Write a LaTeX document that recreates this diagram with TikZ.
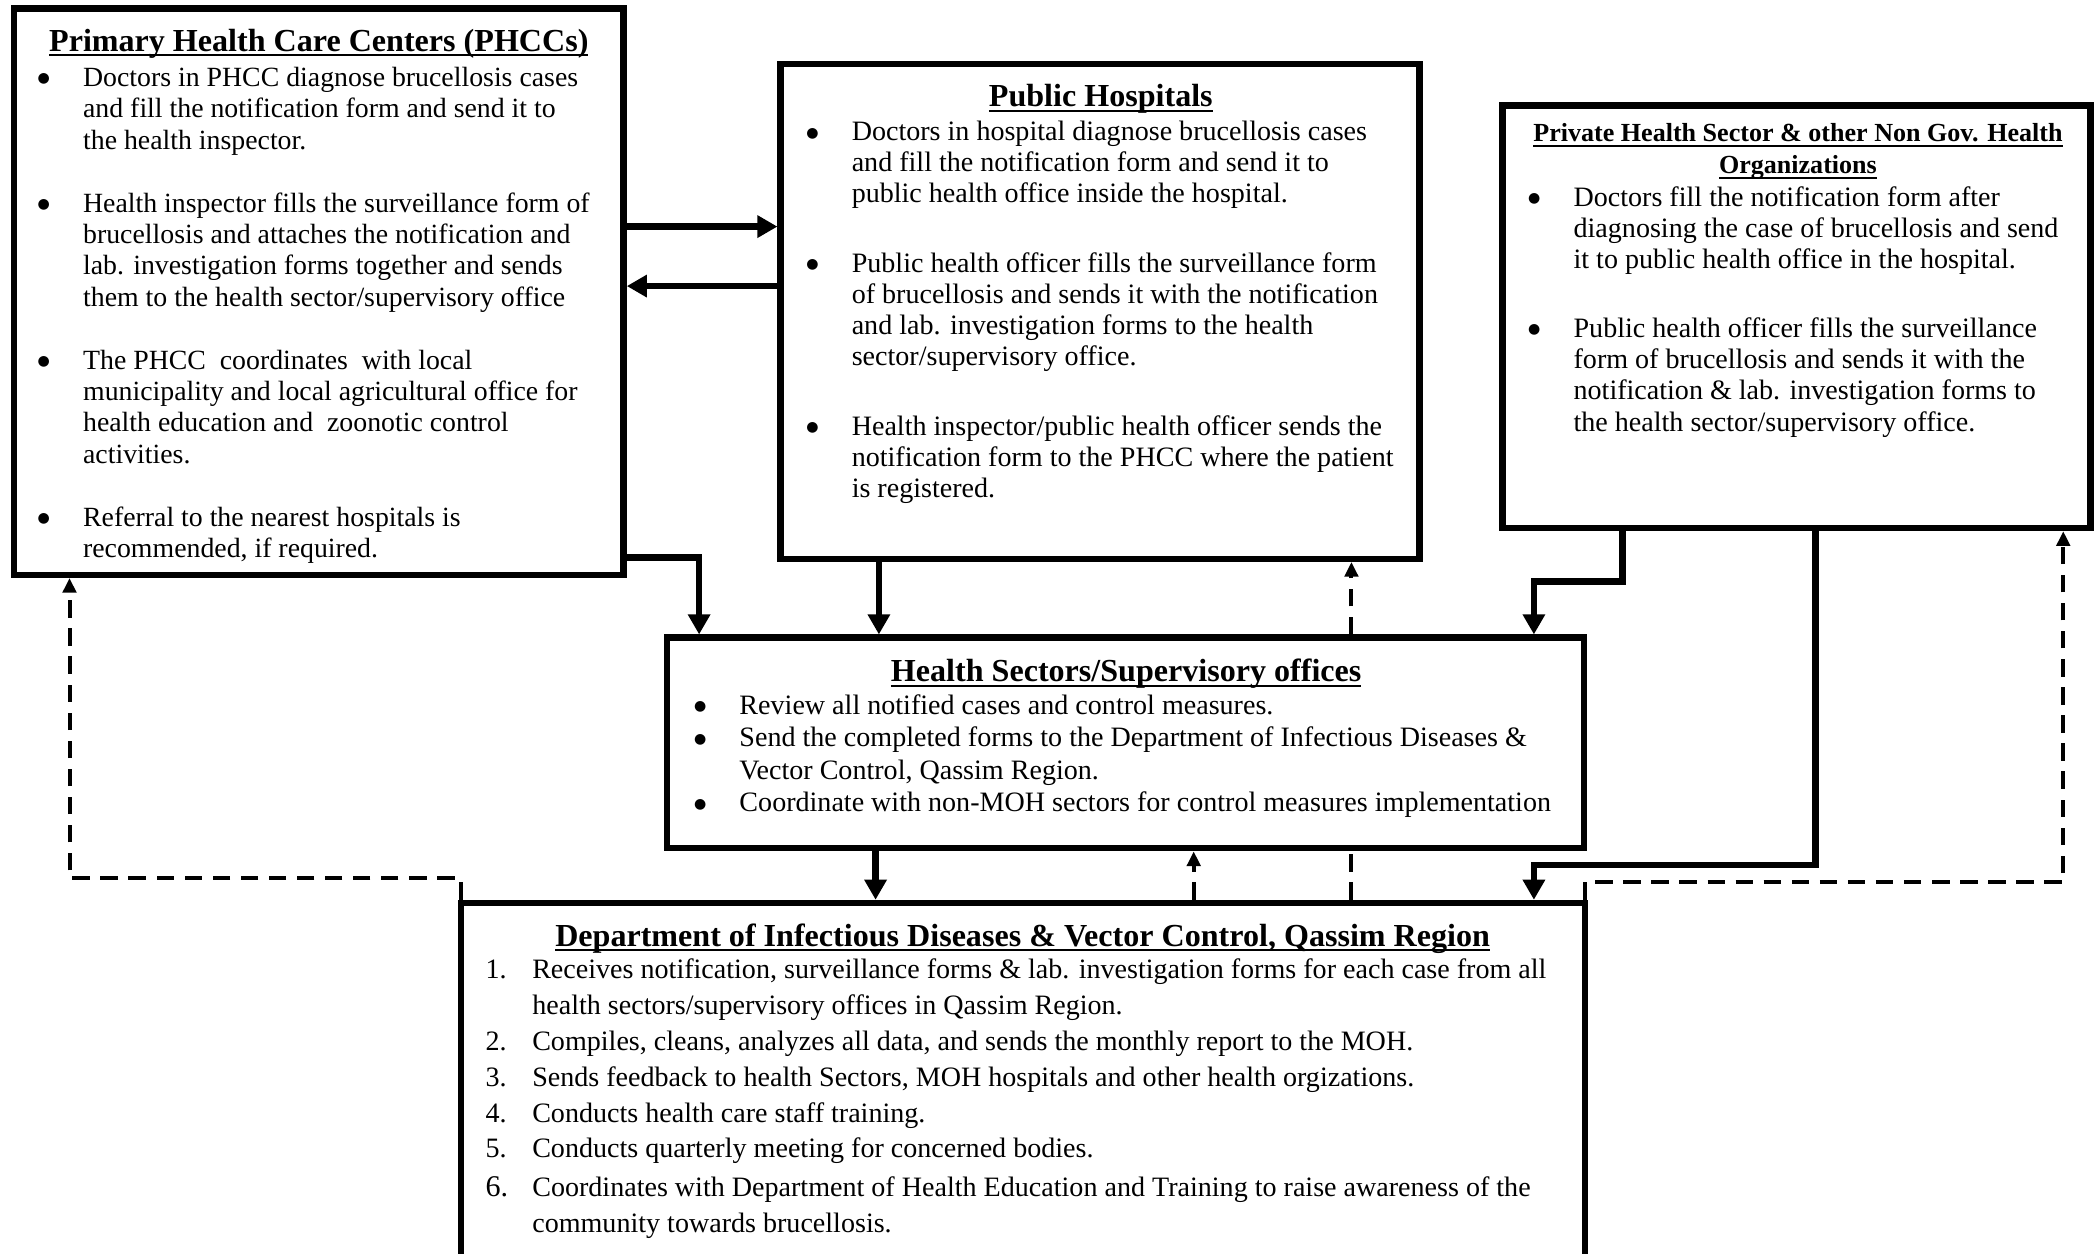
\documentclass[tikz,border=0pt]{standalone}
\usepackage{fontspec}
\setmainfont{Liberation Serif}
\newfontfamily\symf{DejaVu Sans}
\usetikzlibrary{arrows.meta}
\newsavebox\ulbox
\newcommand\ulx[1]{\sbox\ulbox{#1}\rlap{\rule[-3.7pt]{\wd\ulbox}{1.6pt}}\usebox\ulbox}
\newcommand\bul{\llap{\makebox[34pt][l]{\raisebox{2.6pt}{\symf\fontsize{10.5}{10.5}\selectfont ●}}}}
\newcommand\numb[1]{\llap{\makebox[35pt][l]{#1}}}
\newcommand\fst{\rule{0pt}{16pt}}
\begin{document}
\begin{tikzpicture}[x=1pt,y=-1pt,
  box/.style={draw, line width=4.8pt, rectangle, inner sep=0pt},
  ttl/.style={inner sep=0pt, anchor=base, font=\bfseries\fontsize{24}{28}\selectfont},
  ttls/.style={inner sep=0pt, anchor=base, font=\bfseries\fontsize{19.5}{24}\selectfont},
  body/.style={inner sep=0pt, anchor=north west, align=left},
  sarrow/.style={line width=5pt, -{Triangle[length=15pt,width=16pt]}},
  darrow/.style={line width=3pt, dash pattern=on 13pt off 8pt, -{Triangle[length=11pt,width=10pt]}},
  dline/.style={line width=3pt, dash pattern=on 13pt off 8pt},
]
\useasboundingbox (0,0) rectangle (1568,938);
\fill[white] (0,0) rectangle (1568,938);

% boxes
\node[box, minimum width=456pt, minimum height=423.5pt] (phcc) at (238.5,218.25) {};
\node[box, minimum width=478pt, minimum height=370pt] (hosp) at (823,233) {};
\node[box, minimum width=440pt, minimum height=316pt] (priv) at (1344,237) {};
\node[box, minimum width=686pt, minimum height=157.5pt] (health) at (842,555.75) {};
\node[box, minimum width=840.5pt, minimum height=324.5pt] (dept) at (765.25,837.75) {};

% titles
\node[ttl] (phccT) at (238.5,38.5) {\ulx{Primary Health Care Centers (PHCCs)}};
\node[ttl] (hospT) at (823.5,80) {\ulx{Public Hospitals}};
\node[ttls] (privT1) at (1345,106) {\ulx{Private Health Sector \& other Non Gov. Health}};
\node[ttls] (privT2) at (1345,130) {\ulx{Organizations}};
\node[ttl] (healthT) at (842.5,510) {\ulx{Health Sectors/Supervisory offices}};
\node[ttl] (deptT) at (765,708) {\ulx{Department of Infectious Diseases \& Vector Control, Qassim Region}};

% body texts
\node[body, font=\fontsize{20.8}{23.5}\selectfont] (phccB) at (62,48.4) {%
\fst\bul Doctors in PHCC diagnose brucellosis cases\\
and fill the notification form and send it to\\
the health inspector.\\[23.5pt]
\bul Health inspector fills the surveillance form of\\
brucellosis and attaches the notification and\\
lab. investigation forms together and sends\\
them to the health sector/supervisory office\\[23.5pt]
\bul The PHCC\ \ coordinates\ \ with local\\
municipality and local agricultural office for\\
health education and\ \ zoonotic control\\
activities.\\[23.5pt]
\bul Referral to the nearest hospitals is\\
recommended, if required.};

\node[body, font=\fontsize{21}{23.3}\selectfont] (hospB) at (637,89) {%
\fst\bul Doctors in hospital diagnose brucellosis cases\\
and fill the notification form and send it to\\
public health office inside the hospital.\\[28.7pt]
\bul Public health officer fills the surveillance form\\
of brucellosis and sends it with the notification\\
and lab. investigation forms to the health\\
sector/supervisory office.\\[28.7pt]
\bul Health inspector/public health officer sends the\\
notification form to the PHCC where the patient\\
is registered.};

\node[body, font=\fontsize{21}{23.5}\selectfont] (privB) at (1177,138) {%
\fst\bul Doctors fill the notification form after\\
diagnosing the case of brucellosis and send\\
it to public health office in the hospital.\\[27.5pt]
\bul Public health officer fills the surveillance\\
form of brucellosis and sends it with the\\
notification \& lab. investigation forms to\\
the health sector/supervisory office.};

\node[body, font=\fontsize{21}{24.3}\selectfont] (healthB) at (553,518) {%
\fst\bul Review all notified cases and control measures.\\
\bul Send the completed forms to the Department of Infectious Diseases \&\\
Vector Control, Qassim Region.\\
\bul Coordinate with non-MOH sectors for control measures implementation};

\node[body, font=\fontsize{21}{26.8}\selectfont] (deptB) at (398,716) {%
\fst\numb{1.}Receives notification, surveillance forms \& lab. investigation forms for each case from all\\
health sectors/supervisory offices in Qassim Region.\\
\numb{2.}Compiles, cleans, analyzes all data, and sends the monthly report to the MOH.\\
\numb{3.}Sends feedback to health Sectors, MOH hospitals and other health orgizations.\\
\numb{4.}Conducts health care staff training.\\
\numb{5.}Conducts quarterly meeting for concerned bodies.\\[2pt]
\numb{\fontsize{22.5}{26}\selectfont 6.}Coordinates with Department of Health Education and Training to raise awareness of the\\
community towards brucellosis.};

% helper coordinates
\coordinate (xa) at (52,0);
\coordinate (xb) at (523,0);
\coordinate (xc) at (657.5,0);
\coordinate (xd) at (1011,0);
\coordinate (xe) at (1214,0);
\coordinate (xf) at (1147.5,0);
\coordinate (xg) at (1358,0);
\coordinate (xh) at (655,0);
\coordinate (xi) at (893,0);
\coordinate (xj) at (1543.5,0);
\coordinate (ya) at (0,169.5);
\coordinate (yb) at (0,214);
\coordinate (yc) at (0,417);
\coordinate (yd) at (0,435);
\coordinate (ye) at (0,647);
\coordinate (yf) at (0,657);
\coordinate (yg) at (0,660);
\coordinate (stub) at (466.5,358);
\coordinate (dnw) at ([xshift=2.4pt]dept.north west);
\coordinate (dne) at ([xshift=-2.4pt]dept.north east);

% connectors
\draw[sarrow] (phcc.east |- ya) -- (hosp.west |- ya);
\draw[sarrow] (hosp.west |- yb) -- (phcc.east |- yb);
\draw[sarrow] (stub) -- (stub |- yc) -| (health.north -| xb);
\draw[sarrow] (hosp.south -| xc) -- (health.north -| xc);
\draw[darrow] (health.north -| xd) -- (hosp.south -| xd);
\draw[sarrow] (priv.south -| xe) -- (xe |- yd) -| (health.north -| xf);
\draw[sarrow] (priv.south -| xg) -- (xg |- ye) -| (dept.north -| xf);
\draw[sarrow] (health.south -| xh) -- (dept.north -| xh);
\draw[darrow] (dept.north -| xi) -- (health.south -| xi);
\draw[dline] (dept.north -| xd) -- (health.south -| xd);
\draw[darrow] (dnw) -- (dnw |- yf) -| (phcc.south -| xa);
\draw[darrow] (dne) -- (dne |- yg) -| (priv.south -| xj);
\end{tikzpicture}
\end{document}
